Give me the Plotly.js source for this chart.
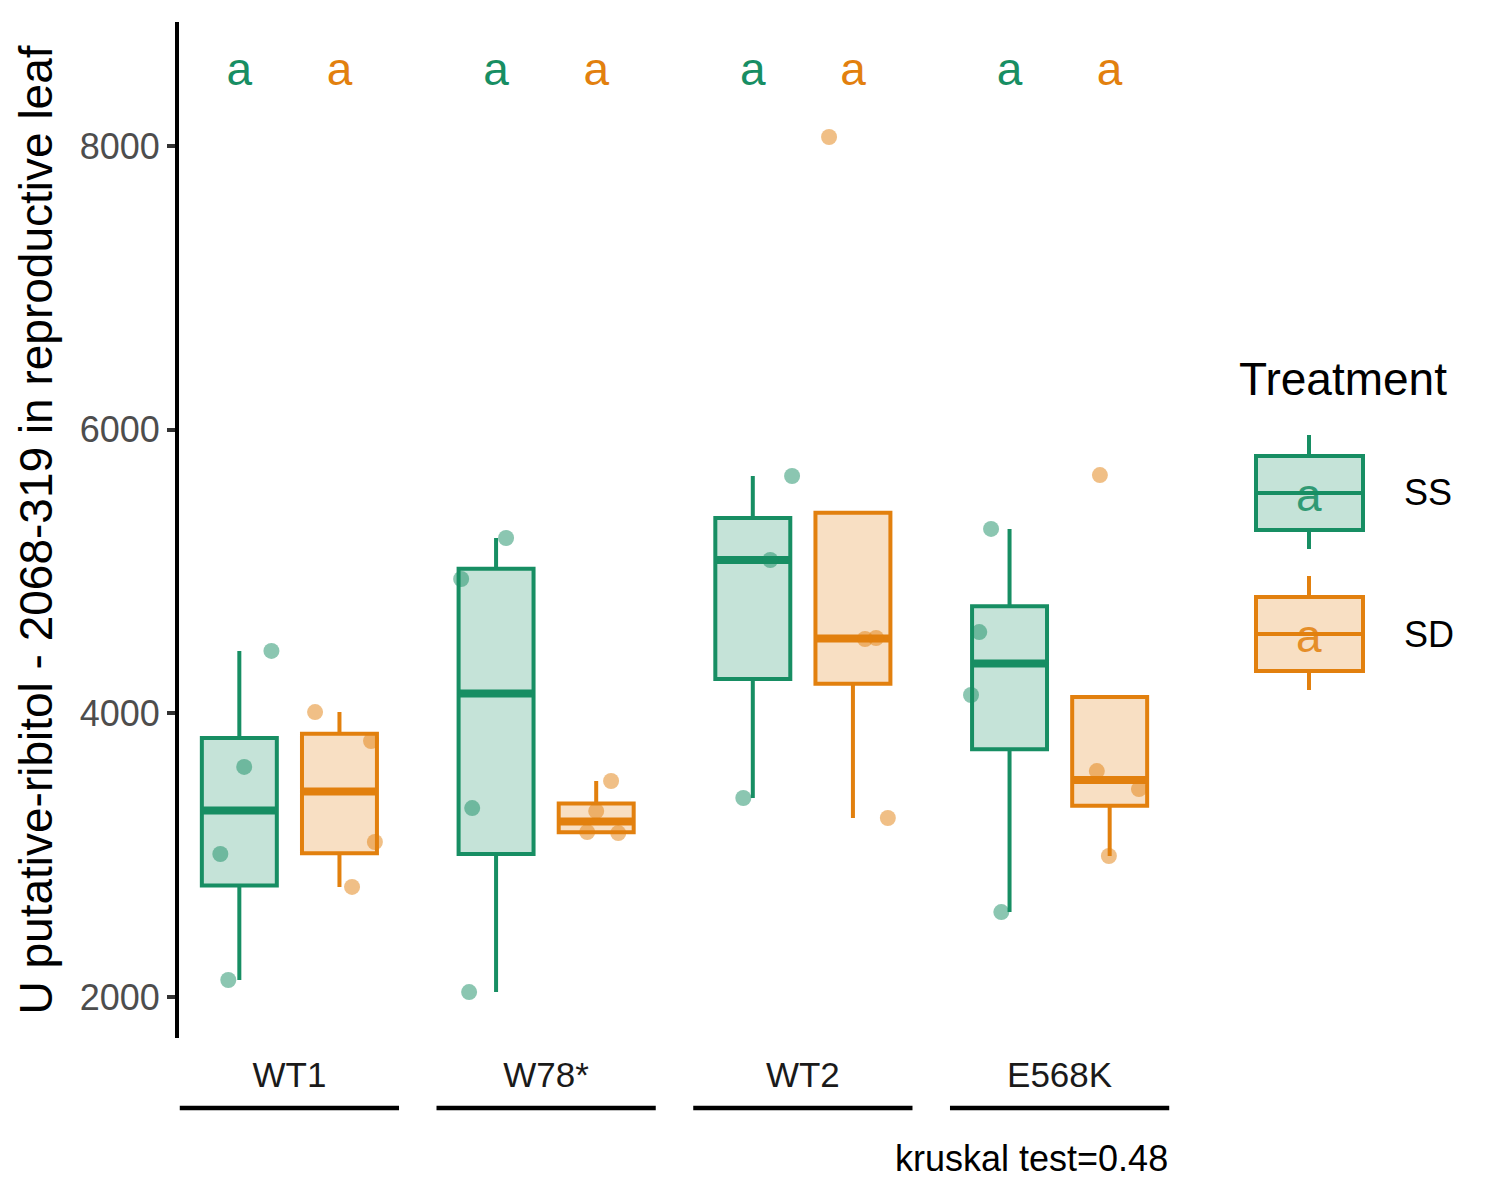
<!DOCTYPE html>
<html>
<head>
<meta charset="utf-8">
<script src="https://cdn.plot.ly/plotly-3.0.1.min.js"></script>
<style>body{margin:0;background:#fff}</style>
</head>
<body>
<div id="chart" style="width:1500px;height:1200px"></div>
<script>
// genotypes on the x axis, two treatments dodged inside each
const genotypes = ['WT1', 'W78*', 'WT2', 'E568K'];
const treatments = ['SS', 'SD'];

// measured values per genotype
const ssValues = [
    [4440, 3622, 3008, 2120],
    [5236, 4947, 3332, 2035],
    [5673, 5081, 3403],
    [5300, 4573, 4129, 2599]
];
const sdValues = [
    [4009, 3805, 3093, 2776],
    [3523, 3311, 3163, 3156],
    [8063, 4524, 4531, 3262],
    [5680, 3593, 3466, 2994]
];

// horizontal jitter of each point (category units)
const ssJitter = [
    [0.125, 0.019, -0.074, -0.043],
    [0.039, -0.136, -0.093, -0.105],
    [0.153, 0.068, -0.037],
    [-0.072, -0.118, -0.150, -0.032]
];
const sdJitter = [
    [-0.095, 0.123, 0.138, 0.049],
    [0.058, 0.000, -0.035, 0.086],
    [-0.093, 0.047, 0.090, 0.136],
    [-0.038, -0.050, 0.114, -0.003]
];

// compact letter display above the boxes
const ssLetters = ['a', 'a', 'a', 'a'];
const sdLetters = ['a', 'a', 'a', 'a'];

const kruskalP = 0.48;

// ---- styling ----
const FONT = 'Liberation Sans, Arial, Helvetica, sans-serif';
const COLORS = { SS: '#178E63', SD: '#E2800E' };
const FILLS = { SS: 'rgba(23,142,99,0.25)', SD: 'rgba(226,128,14,0.25)' };
const DODGE = 0.195;      // offset of each box from the genotype centre
const BOX_W = 0.292;      // box width in category units
const LETTER_Y = 8510;    // height of the letter labels

// plot area in pixels, used to place the hand-drawn legend
const W = 1500, H = 1200;
const M = { l: 179, r: 330, t: 22, b: 162 };
const px2x = px => (px - M.l) / (W - M.l - M.r);
const py2y = py => (H - M.b - py) / (H - M.t - M.b);

// R type-7 quantile, as ggplot's stat_boxplot uses
function quantile(sorted, p) {
    const h = (sorted.length - 1) * p;
    const lo = Math.floor(h);
    const hi = Math.min(lo + 1, sorted.length - 1);
    return sorted[lo] + (h - lo) * (sorted[hi] - sorted[lo]);
}

function boxStats(values) {
    const s = [...values].sort((a, b) => a - b);
    const q1 = quantile(s, 0.25), med = quantile(s, 0.5), q3 = quantile(s, 0.75);
    const iqr = q3 - q1;
    const inside = s.filter(v => v >= q1 - 1.5 * iqr && v <= q3 + 1.5 * iqr);
    return {
        q1: q1, med: med, q3: q3,
        lo: Math.min(q1, inside[0]),
        hi: Math.max(q3, inside[inside.length - 1])
    };
}

const groups = [
    { name: 'SS', values: ssValues, jitter: ssJitter, letters: ssLetters, shift: -DODGE },
    { name: 'SD', values: sdValues, jitter: sdJitter, letters: sdLetters, shift: DODGE }
];

const traces = [];
groups.forEach(g => {
    const pos = genotypes.map((_, i) => i + g.shift);
    const stats = g.values.map(boxStats);

    traces.push({
        type: 'box',
        name: g.name,
        x: pos,
        q1: stats.map(s => s.q1),
        median: stats.map(s => s.med),
        q3: stats.map(s => s.q3),
        lowerfence: stats.map(s => s.lo),
        upperfence: stats.map(s => s.hi),
        width: BOX_W,
        whiskerwidth: 0,
        boxpoints: false,
        fillcolor: FILLS[g.name],
        line: { color: COLORS[g.name], width: 4 },
        hoverinfo: 'skip'
    });

    // thicker median bar on top of the box
    const mx = [], my = [];
    stats.forEach((s, i) => {
        mx.push(pos[i] - BOX_W / 2, pos[i] + BOX_W / 2, null);
        my.push(s.med, s.med, null);
    });
    traces.push({
        type: 'scatter', mode: 'lines', x: mx, y: my,
        line: { color: COLORS[g.name], width: 8 },
        hoverinfo: 'skip'
    });

    // jittered raw points
    const px = [], py = [];
    g.values.forEach((vals, i) => {
        vals.forEach((v, k) => {
            px.push(pos[i] + g.jitter[i][k]);
            py.push(v);
        });
    });
    traces.push({
        type: 'scatter', mode: 'markers', x: px, y: py,
        marker: { color: COLORS[g.name], size: 16, opacity: 0.5, line: { width: 0 } },
        hoverinfo: 'skip'
    });

    // letter labels
    traces.push({
        type: 'scatter', mode: 'text', x: pos, y: pos.map(() => LETTER_Y),
        text: g.letters, textposition: 'middle center',
        textfont: { family: FONT, size: 46, color: COLORS[g.name] },
        hoverinfo: 'skip'
    });
});

// underline below every genotype label
const shapes = genotypes.map((_, i) => ({
    type: 'line', xref: 'x', yref: 'paper',
    x0: i - 0.427, x1: i + 0.427, y0: py2y(1108), y1: py2y(1108),
    line: { color: '#000', width: 4.5 }
}));

const annotations = [{
    text: 'kruskal test=' + kruskalP,
    xref: 'paper', yref: 'paper', x: 1, y: py2y(1158),
    xanchor: 'right', yanchor: 'middle', showarrow: false,
    font: { family: FONT, size: 36, color: '#000' }
}, {
    text: 'Treatment',
    xref: 'paper', yref: 'paper', x: px2x(1237), y: py2y(379),
    xanchor: 'left', yanchor: 'middle', showarrow: false,
    font: { family: FONT, size: 46, color: '#000' }
}];

// legend keys drawn like ggplot's boxplot key
const keyCentres = { SS: 493, SD: 634 };
treatments.forEach(t => {
    const cy = keyCentres[t];
    const line = { color: COLORS[t], width: 4 };
    shapes.push(
        { type: 'line', xref: 'paper', yref: 'paper', x0: px2x(1309), x1: px2x(1309), y0: py2y(cy - 58), y1: py2y(cy - 37), line: line },
        { type: 'line', xref: 'paper', yref: 'paper', x0: px2x(1309), x1: px2x(1309), y0: py2y(cy + 37), y1: py2y(cy + 56), line: line },
        { type: 'rect', xref: 'paper', yref: 'paper', x0: px2x(1256), x1: px2x(1363), y0: py2y(cy - 37), y1: py2y(cy + 37), fillcolor: FILLS[t], line: line },
        { type: 'line', xref: 'paper', yref: 'paper', x0: px2x(1256), x1: px2x(1363), y0: py2y(cy), y1: py2y(cy), line: line }
    );
    annotations.push({
        text: 'a', xref: 'paper', yref: 'paper', x: px2x(1309), y: py2y(cy + 2),
        xanchor: 'center', yanchor: 'middle', showarrow: false, opacity: 0.85,
        font: { family: FONT, size: 46, color: COLORS[t] }
    }, {
        text: t, xref: 'paper', yref: 'paper', x: px2x(1402), y: py2y(cy),
        xanchor: 'left', yanchor: 'middle', showarrow: false,
        font: { family: FONT, size: 36, color: '#000' }
    });
});

const layout = {
    width: W, height: H,
    margin: M,
    paper_bgcolor: '#fff', plot_bgcolor: '#fff',
    showlegend: false,
    font: { family: FONT, color: '#000' },
    xaxis: {
        range: [-0.43, 3.43],
        tickvals: genotypes.map((_, i) => i),
        ticktext: genotypes,
        ticks: '', showline: false, showgrid: false, zeroline: false,
        tickfont: { family: FONT, size: 35, color: '#1A1A1A' },
        ticklabelstandoff: 13,
        fixedrange: true
    },
    yaxis: {
        range: [1711, 8874],
        tickvals: [2000, 4000, 6000, 8000],
        tickformat: 'd',
        showline: true, linewidth: 4, linecolor: '#000',
        ticks: 'outside', ticklen: 8, tickwidth: 4, tickcolor: '#333',
        tickfont: { family: FONT, size: 36, color: '#4D4D4D' },
        showgrid: false, zeroline: false,
        title: {
            text: 'U putative-ribitol - 2068-319 in reproductive leaf',
            font: { family: FONT, size: 46, color: '#000' },
            standoff: 14
        },
        fixedrange: true
    },
    shapes: shapes,
    annotations: annotations
};

Plotly.newPlot('chart', traces, layout, { staticPlot: true });
</script>
</body>
</html>
